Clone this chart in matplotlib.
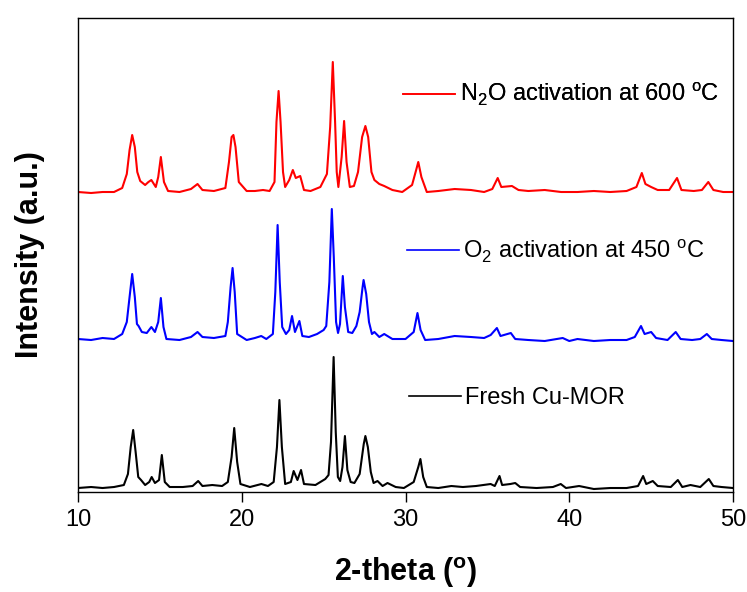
import matplotlib
matplotlib.use('Agg')
import matplotlib.pyplot as plt
from matplotlib.lines import Line2D

plt.rcParams['font.family'] = ['Liberation Sans', 'DejaVu Sans']
plt.rcParams['mathtext.fontset'] = 'custom'
plt.rcParams['mathtext.rm'] = 'Liberation Sans'

# Fresh Cu-MOR
fresh_x = [10.0, 10.8, 11.5, 12.2, 12.8, 13.05, 13.22, 13.37, 13.52, 13.68, 13.85, 14.1, 14.35, 14.5,
           14.7, 14.95, 15.12, 15.3, 15.6, 16.4, 17.0, 17.34, 17.6, 18.2, 18.8, 19.15, 19.38, 19.54,
           19.72, 19.92, 20.5, 21.2, 21.6, 21.95, 22.15, 22.3, 22.45, 22.65, 23.0, 23.17, 23.4, 23.62,
           23.8, 24.5, 25.1, 25.3, 25.45, 25.61, 25.74, 25.87, 26.01, 26.15, 26.3, 26.45, 26.65,
           26.88, 27.2, 27.45, 27.55, 27.7, 27.88, 28.05, 28.29, 28.6, 28.9, 29.4, 29.9, 30.5,
           30.78, 30.91, 31.08, 31.3, 32.0, 32.8, 33.5, 34.3, 35.2, 35.45, 35.74, 35.9, 36.4, 36.7,
           37.0, 38.0, 39.0, 39.48, 39.8, 40.6, 41.5, 42.5, 43.5, 44.2, 44.51, 44.7, 45.1, 45.4,
           46.2, 46.63, 46.9, 47.4, 48.0, 48.52, 48.8, 49.3, 50.0]
fresh_y = [4, 5, 4, 5, 7, 18, 45, 62, 40, 15, 12, 7, 10, 15,
           9, 12, 37, 10, 5, 5, 6, 11, 6, 7, 6, 10, 35, 64,
           30, 8, 5, 8, 6, 10, 45, 92, 45, 8, 10, 21, 12, 22,
           8, 7, 13, 17, 50, 135, 60, 15, 11, 25, 56, 22, 10,
           9, 18, 48, 56, 45, 20, 9, 11, 6, 9, 5, 4, 10,
           25, 33, 15, 5, 4, 6, 5, 6, 8, 6, 16, 7, 8, 9,
           5, 4, 5, 8, 4, 6, 3, 4, 4, 6, 16, 8, 11, 6,
           5, 12, 5, 7, 5, 13, 6, 5, 4]

# O2 activation at 450 C
o2_x = [10.0, 10.8, 11.5, 12.2, 12.7, 12.98, 13.15, 13.31, 13.47, 13.6, 13.7, 13.9, 14.2, 14.48,
        14.7, 14.9, 15.06, 15.22, 15.4, 16.2, 16.9, 17.3, 17.6, 18.3, 19.0, 19.15, 19.32, 19.44,
        19.57, 19.72, 20.3, 20.8, 21.19, 21.5, 21.9, 22.05, 22.19, 22.32, 22.47, 22.7, 22.9, 23.07,
        23.25, 23.52, 23.7, 24.1, 24.6, 25.0, 25.16, 25.35, 25.5, 25.62, 25.76, 25.88, 26.0,
        26.17, 26.3, 26.5, 26.75, 27.0, 27.2, 27.38, 27.44, 27.6, 27.77, 27.95, 28.1, 28.4, 28.7,
        29.2, 30.0, 30.5, 30.73, 30.92, 31.2, 32.0, 33.0, 34.0, 34.8, 35.2, 35.58, 35.8, 36.43,
        36.7, 37.5, 38.5, 39.6, 40.0, 40.5, 41.5, 42.5, 43.5, 44.0, 44.38, 44.6, 45.0, 45.3,
        46.0, 46.5, 46.8, 47.5, 48.0, 48.4, 48.7, 49.3, 50.0]
o2_y = [153, 152, 154, 153, 158, 170, 195, 218, 195, 168, 166, 160, 159, 165,
        160, 170, 194, 165, 153, 152, 155, 160, 155, 154, 156, 170, 205, 224,
        200, 158, 152, 154, 156, 153, 158, 200, 267, 210, 165, 158, 162, 176,
        160, 171, 156, 155, 158, 162, 166, 210, 283, 235, 170, 159, 168,
        216, 185, 160, 159, 166, 180, 205, 212, 198, 170, 158, 160, 155, 158,
        153, 153, 160, 179, 162, 152, 153, 156, 155, 154, 157, 164, 156, 159,
        153, 152, 151, 154, 151, 153, 151, 152, 152, 155, 166, 158, 160, 154,
        152, 160, 153, 152, 153, 158, 153, 152, 151]

# N2O activation at 600 C
n2o_x = [10.0, 10.8, 11.5, 12.2, 12.7, 12.98, 13.15, 13.31, 13.47, 13.62, 13.8, 14.1, 14.3, 14.48,
         14.75, 14.9, 15.06, 15.25, 15.5, 16.2, 16.9, 17.3, 17.6, 18.3, 19.0, 19.22, 19.38, 19.49,
         19.62, 19.82, 20.3, 20.8, 21.3, 21.7, 22.0, 22.12, 22.25, 22.37, 22.52, 22.65, 22.9, 23.12,
         23.3, 23.57, 23.8, 24.2, 24.8, 25.2, 25.4, 25.56, 25.7, 25.8, 25.9, 26.1, 26.25, 26.4,
         26.6, 26.85, 27.1, 27.35, 27.55, 27.72, 27.92, 28.1, 28.4, 28.7, 29.2, 29.8, 30.4, 30.65,
         30.78, 30.97, 31.3, 32.0, 33.0, 34.0, 34.8, 35.3, 35.63, 35.85, 36.5, 36.9, 37.5, 38.5,
         39.5, 40.5, 41.5, 42.5, 43.5, 44.1, 44.43, 44.65, 45.0, 45.4, 46.1, 46.58, 46.85, 47.6,
         48.1, 48.49, 48.8, 49.4, 50.0]
n2o_y = [300, 299, 300, 300, 304, 318, 342, 357, 345, 320, 311, 307, 310, 312,
         305, 315, 335, 310, 301, 300, 303, 308, 302, 301, 304, 330, 355, 357,
         345, 310, 301, 301, 302, 301, 310, 370, 401, 370, 320, 305, 312, 322,
         314, 316, 302, 301, 305, 318, 365, 430, 370, 320, 305, 335, 371, 330,
         305, 306, 320, 355, 366, 355, 320, 312, 308, 306, 302, 300, 307, 322,
         330, 315, 300, 301, 303, 302, 300, 303, 314, 305, 306, 302, 301, 302,
         300, 300, 301, 300, 301, 305, 319, 308, 305, 302, 302, 314, 302, 301,
         302, 310, 302, 300, 300]

labels = ['Fresh Cu-MOR',
          r'O$_\mathregular{2}$ activation at 450 $^\mathregular{o}$C',
          r'N$_\mathregular{2}$O activation at 600 $^\mathregular{o}$C']
colors = ['black', '#0000FF', '#FF0000']

fig = plt.figure(figsize=(7.47, 5.92), dpi=100)
ax = fig.add_axes([0.1044, 0.1689, 0.8769, 0.8007])

ax.plot(fresh_x, fresh_y, color=colors[0], lw=1.5)
ax.plot(o2_x, o2_y, color=colors[1], lw=1.5)
ax.plot(n2o_x, n2o_y, color=colors[2], lw=1.5)

ax.set_xlim(10, 50)
ax.set_ylim(0, 474)
ax.set_xticks([10, 20, 30, 40, 50])
ax.set_yticks([])
ax.tick_params(axis='x', direction='out', length=7, width=1, labelsize=17, pad=5)
for s in ax.spines.values():
    s.set_linewidth(1.0)

ax.set_xlabel(r'2-theta ($^\mathregular{o}$)', fontsize=22, fontweight='bold', labelpad=18)
ax.set_ylabel('Intensity (a.u.)', fontsize=22, fontweight='bold', labelpad=24)

# one legend entry beside each trace
anchors = [(0.505, 0.198), (0.502, 0.508), (0.496, 0.838)]
for lab, col, pos in zip(labels, colors, anchors):
    leg = ax.legend([Line2D([], [], color=col, lw=1.2)], [lab], loc='center left',
                    bbox_to_anchor=pos, frameon=False, fontsize=17, borderpad=0,
                    borderaxespad=0, handlelength=2.2, handletextpad=0.2)
    ax.add_artist(leg)

fig.savefig('out.png', dpi=100)
